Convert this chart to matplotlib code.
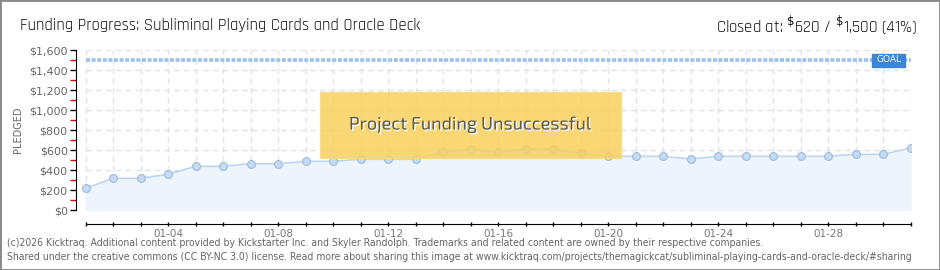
import matplotlib
matplotlib.use("Agg")
import matplotlib.pyplot as plt
from matplotlib.patches import Rectangle
from matplotlib.ticker import FuncFormatter, MultipleLocator, FixedLocator
import matplotlib.patheffects as pe

dates = [f"01-{d:02d}" for d in range(1, 32)]
pledged = [217, 317, 317, 357, 437, 437, 463, 463, 487, 487, 507, 507, 507,
           577, 607, 577, 607, 607, 567, 537, 537, 537, 510, 537, 537, 537,
           537, 537, 557, 557, 620]
goal = 1500
tick_labels = ["01-04", "01-08", "01-12", "01-16", "01-20", "01-24", "01-28"]

plt.rcParams['font.family'] = ['DejaVu Sans']
TITLE_FONT = ['Rajdhani', 'DejaVu Sans']

fig = plt.figure(figsize=(9.4, 2.7), dpi=100)
W, H = 940, 270
ax = fig.add_axes([76 / W, (H - 210) / H, (910.5 - 76) / W, 160 / H])
x = list(range(len(pledged)))
n = len(pledged) - 1

ax.set_xlim(-(85.5 - 76) / 27.5, n)
ax.set_ylim(0, 1600)

for v in range(0, 1601, 200):
    ax.plot([0, n], [v, v], color='#e2e2e2', lw=1, ls=(0, (4, 3)), zorder=0)
for xi in x:
    ax.plot([xi, xi], [0, 1600], color='#e2e2e2', lw=1, ls=(0, (4, 3)), zorder=0)

ax.fill_between(x, pledged, 0, color='#eef4fc', zorder=1)
ax.plot(x, pledged, color='#bcd6f2', lw=1.2, zorder=2)
ax.plot(x, pledged, 'o', ms=5.6, mfc='#c3dbf6', mec='#9fb9d6', mew=0.8, zorder=3)

ax.plot([0, n], [goal, goal], color='#9cc0e8', lw=2.6, ls=(0, (1.1, 0.45)), zorder=2)
gx0 = (872 - 85.5) / 27.5
gx1 = (905 - 85.5) / 27.5
ax.add_patch(Rectangle((gx0, goal - 65), gx1 - gx0, 130, fc='#3b86d6', ec='#3b86d6', zorder=4))
ax.text((gx0 + gx1) / 2, goal, "GOAL", color='white', fontsize=6.5,
        ha='center', va='center', zorder=5)

bx0 = (320 - 85.5) / 27.5
bx1 = (620.7 - 85.5) / 27.5
ax.add_patch(Rectangle((bx0, 520), bx1 - bx0, 660, fc='#f8d15c', ec='#f6dc8a',
                       lw=1, alpha=0.85, zorder=6))
ax.text((bx0 + bx1) / 2, 850, "Project Funding Unsuccessful", fontsize=13,
        family=['Exo 2', 'DejaVu Sans'], fontweight='medium',
        color='#5a5a5a', ha='center', va='center', zorder=7,
        path_effects=[pe.withSimplePatchShadow(offset=(1, -1), shadow_rgbFace='white', alpha=1)])

for s in ['top', 'right']:
    ax.spines[s].set_visible(False)
ax.spines['bottom'].set_position(('outward', 10))
ax.spines['bottom'].set_bounds(0, n)

ax.yaxis.set_major_locator(MultipleLocator(200))
ax.yaxis.set_minor_locator(FixedLocator(list(range(100, 1600, 200))))
ax.yaxis.set_major_formatter(FuncFormatter(lambda v, p: f"${int(v):,}"))
ax.tick_params(axis='y', which='major', length=4, width=1, color='black',
               labelsize=8, labelcolor='#666666', pad=2)
ax.tick_params(axis='y', which='minor', length=4, width=1, color='#e00000')

ax.xaxis.set_major_locator(FixedLocator(x))
ax.set_xticklabels([dates[i] if dates[i] in tick_labels else "" for i in x])
ax.tick_params(axis='x', which='major', length=3, width=1, color='black',
               labelsize=7.5, labelcolor='#777777', pad=2, direction='inout')
ax.set_ylabel("PLEDGED", fontsize=7, color='#666666')
ax.yaxis.set_label_coords((23 - 76) / (910.5 - 76), 0.5)

fig.text(20 / W, 1 - 25 / H, "Funding Progress: Subliminal Playing Cards and Oracle Deck",
         fontsize=12, family=TITLE_FONT, color='#111111', ha='left', va='center')
fig.text(917 / W, 1 - 25 / H, r"Closed at: $^{\$}$620 / $^{\$}$1,500 (41%)",
         fontsize=12, family=TITLE_FONT, color='#111111', ha='right', va='center')

fig.text(7 / W, 1 - 243 / H,
         "(c)2026 Kicktraq. Additional content provided by Kickstarter Inc. and Skyler Randolph. Trademarks and related content are owned by their respective companies.",
         fontsize=7.5, color='#666666', ha='left', va='center', fontstretch='condensed')
fig.text(7 / W, 1 - 257 / H,
         "Shared under the creative commons (CC BY-NC 3.0) license. Read more about sharing this image at www.kicktraq.com/projects/themagickcat/subliminal-playing-cards-and-oracle-deck/#sharing",
         fontsize=7.5, color='#666666', ha='left', va='center', fontstretch='condensed')

fig.add_artist(Rectangle((0, 0), 1, 1, transform=fig.transFigure, fill=False,
                         ec='#888888', lw=2))
fig.savefig("out.png", dpi=100)
